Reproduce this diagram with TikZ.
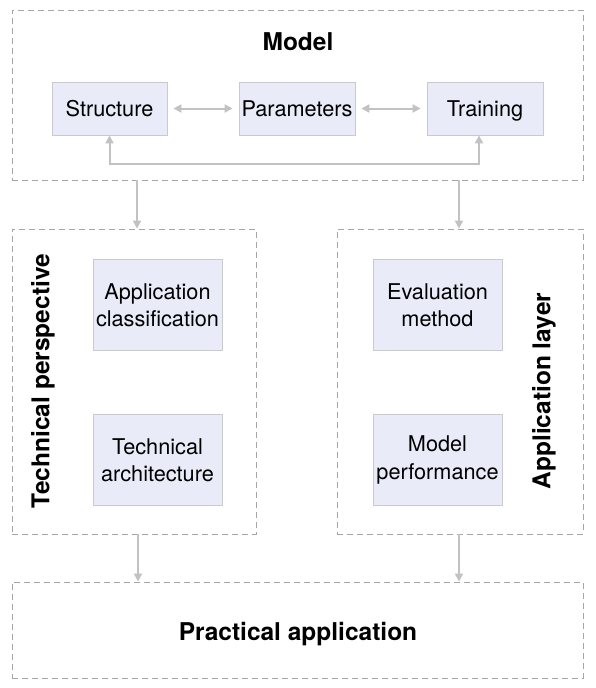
\documentclass[tikz,border=0pt]{standalone}
\usepackage{fontspec}
\setmainfont{TeX Gyre Heros}
\usetikzlibrary{arrows.meta,positioning,calc}
\definecolor{boxfill}{HTML}{E9EBF8}
\definecolor{boxline}{HTML}{C9C9CF}
\definecolor{dashline}{HTML}{A6A6A6}
\definecolor{arrowgray}{HTML}{C2C2C2}

\begin{document}
\begin{tikzpicture}[x=1pt, y=-1pt, >={Triangle[length=8pt, width=8pt]},
  item/.style={draw=boxline, fill=boxfill, line width=0.8pt, align=center,
    inner sep=0pt, font=\fontsize{21.7}{27.5}\selectfont},
  oneline/.style={text height=20pt, text depth=4.4pt},
  group/.style={draw=dashline, dashed, dash pattern=on 6pt off 4pt,
    line width=0.8pt, inner sep=0pt},
  title/.style={font=\fontsize{24.5}{29}\selectfont\bfseries},
  link/.style={draw=arrowgray, line width=2pt}]

  \useasboundingbox (0,0) rectangle (595,688);

  % Define the dashed groups
  \node[group, minimum width=571pt, minimum height=170pt] (model) at (297.5,95) {};
  \node[group, minimum width=244pt, minimum height=305pt] (tech) at (134,381.5) {};
  \node[group, minimum width=246pt, minimum height=305pt] (appl) at (460,381.5) {};
  \node[group, minimum width=571pt, minimum height=96pt] (prac) at (297.5,630) {};

  % Titles
  \node[title] (tmodel) at (298,42) {Model};
  \node[title, rotate=90] (ttech) at (43,381) {Technical perspective};
  \node[title, rotate=90] (tappl) at (544,391) {Application layer};
  \node[title] (tprac) at (298,634) {Practical application};

  % Define the inner boxes
  \node[item, oneline, minimum width=115pt, minimum height=53pt] (struct) at (109.5,108.5) {Structure};
  \node[item, oneline, minimum width=116pt, minimum height=53pt] (param) at (297,108.5) {Parameters};
  \node[item, oneline, minimum width=116pt, minimum height=53pt] (train) at (485,108.5) {Training};
  \node[item, minimum width=129pt, minimum height=91pt] (classif) at (157.5,305) {Application\\classification};
  \node[item, minimum width=129pt, minimum height=91pt] (arch) at (157.5,460) {Technical\\architecture};
  \node[item, minimum width=129pt, minimum height=91pt] (evalm) at (437.5,305) {Evaluation\\method};
  \node[item, minimum width=129pt, minimum height=91pt] (perf) at (437.5,460) {Model\\performance};

  % Draw arrows between nodes
  \draw[link, <->, shorten <=6pt, shorten >=6pt] (struct) to (param);
  \draw[link, <->, shorten <=6pt, shorten >=6pt] (param) to (train);
  \draw[link, <->] (struct.south) -- ++(0,29) -| ([xshift=-6pt]train.south);
  \draw[link, ->] ([xshift=3pt]tech.north |- model.south) to ([xshift=3pt]tech.north);
  \draw[link, ->] ([xshift=-1pt]appl.north |- model.south) to ([xshift=-1pt]appl.north);
  \draw[link, ->] ([xshift=4pt]tech.south) to ([xshift=4pt]tech.south |- prac.north);
  \draw[link, ->] ([xshift=-1pt]appl.south) to ([xshift=-1pt]appl.south |- prac.north);
\end{tikzpicture}
\end{document}
